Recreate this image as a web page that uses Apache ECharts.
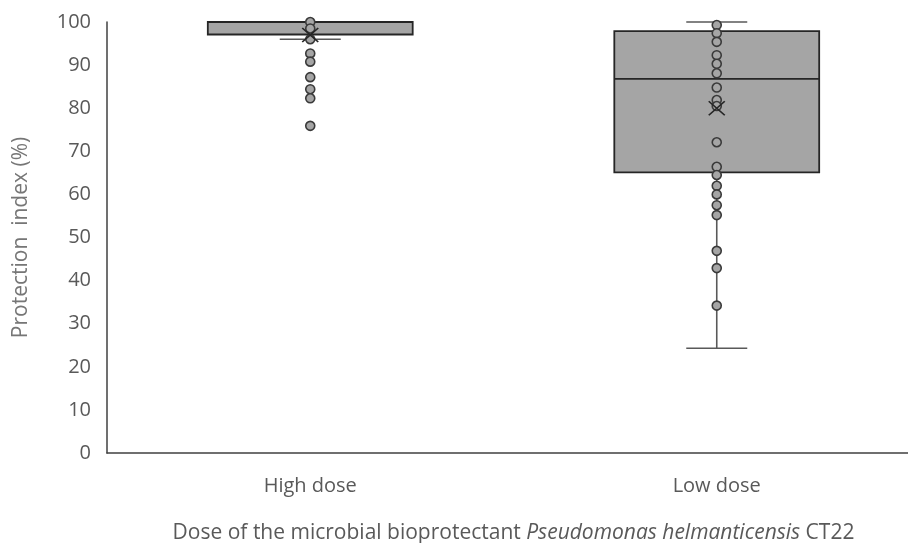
<!DOCTYPE html>
<html>
<head>
<meta charset="utf-8">
<script src="https://cdn.jsdelivr.net/npm/echarts@6/dist/echarts.min.js"></script>
<style>
html,body{margin:0;padding:0;background:#fff;}
#chart{width:908px;height:543px;}
</style>
</head>
<body>
<div id="chart"></div>
<script>
// ---- data ----
const categories = ['High dose', 'Low dose'];
// [min (lower whisker), Q1, median, Q3, max (upper whisker)]
const highBox = [96.0, 97.1, 100, 100, 100];
const lowBox = [24.3, 65.1, 86.8, 97.9, 100];
const means = [97.0, 80.0];
const highPoints = [100, 98.5, 96.0, 92.7, 90.8, 87.2, 84.4, 82.3, 75.9];
const lowPoints = [99.3, 97.4, 95.4, 92.3, 90.3, 88.1, 84.8, 81.9, 80.5, 72.1, 66.4, 64.5, 62.0, 60.0, 57.5, 55.2, 46.9, 42.9, 34.2];
const yMin = 0, yMax = 100, yInterval = 10;

const FONT = 'Open Sans';
const TEXT = '#595959';

const boxData = [[0].concat(highBox), [1].concat(lowBox)];
const pointData = highPoints.map(v => [0, v]).concat(lowPoints.map(v => [1, v]));
const meanData = means.map((v, i) => [i, v]);

function renderBox(params, api) {
  const c = api.value(0);
  const pMin = api.coord([c, api.value(1)]);
  const pQ1 = api.coord([c, api.value(2)]);
  const pMed = api.coord([c, api.value(3)]);
  const pQ3 = api.coord([c, api.value(4)]);
  const pMax = api.coord([c, api.value(5)]);
  const cx = pMin[0];
  const w = api.size([1, 0])[0] * 0.504;
  const cap = 61;
  const wStyle = {stroke: '#595959', lineWidth: 1.6};
  return {
    type: 'group',
    children: [
      {type: 'line', shape: {x1: cx, y1: pQ1[1], x2: cx, y2: pMin[1]}, style: wStyle},
      {type: 'line', shape: {x1: cx, y1: pQ3[1], x2: cx, y2: pMax[1]}, style: wStyle},
      {type: 'line', shape: {x1: cx - cap / 2, y1: pMin[1], x2: cx + cap / 2, y2: pMin[1]}, style: wStyle},
      {type: 'line', shape: {x1: cx - cap / 2, y1: pMax[1], x2: cx + cap / 2, y2: pMax[1]}, style: wStyle},
      {type: 'rect', shape: {x: cx - w / 2, y: pQ3[1], width: w, height: pQ1[1] - pQ3[1]},
        style: {fill: '#a5a5a5', stroke: '#262626', lineWidth: 1.8}},
      {type: 'line', shape: {x1: cx - w / 2, y1: pMed[1], x2: cx + w / 2, y2: pMed[1]},
        style: {stroke: '#262626', lineWidth: 1.6}}
    ]
  };
}

const chart = echarts.init(document.getElementById('chart'), null, {renderer: 'canvas'});
chart.setOption({
  animation: false,
  backgroundColor: '#ffffff',
  grid: {left: 107, top: 22, bottom: 90, right: -12, containLabel: false, outerBoundsMode: 'none'},
  xAxis: {
    type: 'category',
    data: categories,
    axisTick: {show: false},
    axisLine: {lineStyle: {color: '#404040', width: 1.5}},
    axisLabel: {color: TEXT, fontFamily: FONT, fontSize: 20, margin: 23},
    name: '{n|Dose of the microbial bioprotectant }{i|Pseudomonas helmanticensis}{n| CT22}',
    nameLocation: 'middle',
    nameGap: 70,
    nameTextStyle: {
      rich: {
        n: {color: TEXT, fontFamily: FONT, fontSize: 21},
        i: {color: TEXT, fontFamily: FONT, fontSize: 21, fontStyle: 'italic'}
      }
    }
  },
  yAxis: {
    type: 'value',
    min: yMin, max: yMax, interval: yInterval,
    splitLine: {show: false},
    axisTick: {show: false},
    axisLine: {show: true, lineStyle: {color: '#404040', width: 1.5}},
    axisLabel: {color: TEXT, fontFamily: FONT, fontSize: 20, margin: 16},
    name: 'Protection  index (%)',
    nameLocation: 'middle',
    nameGap: 75,
    nameTextStyle: {color: '#767676', fontFamily: FONT, fontSize: 21}
  },
  series: [
    {
      type: 'custom',
      renderItem: renderBox,
      data: boxData,
      encode: {x: 0, y: [1, 2, 3, 4, 5]},
      z: 2
    },
    {
      type: 'scatter',
      data: pointData,
      symbol: 'circle',
      symbolSize: 9,
      itemStyle: {color: '#a5a5a5', borderColor: '#3a3a3a', borderWidth: 1.6, opacity: 1},
      z: 3
    },
    {
      type: 'scatter',
      data: meanData,
      symbol: 'path://M0,0L10,10M10,0L0,10',
      symbolSize: [16, 14],
      itemStyle: {color: 'none', borderColor: '#262626', borderWidth: 1.6, opacity: 1},
      z: 4
    }
  ]
});
</script>
</body>
</html>
